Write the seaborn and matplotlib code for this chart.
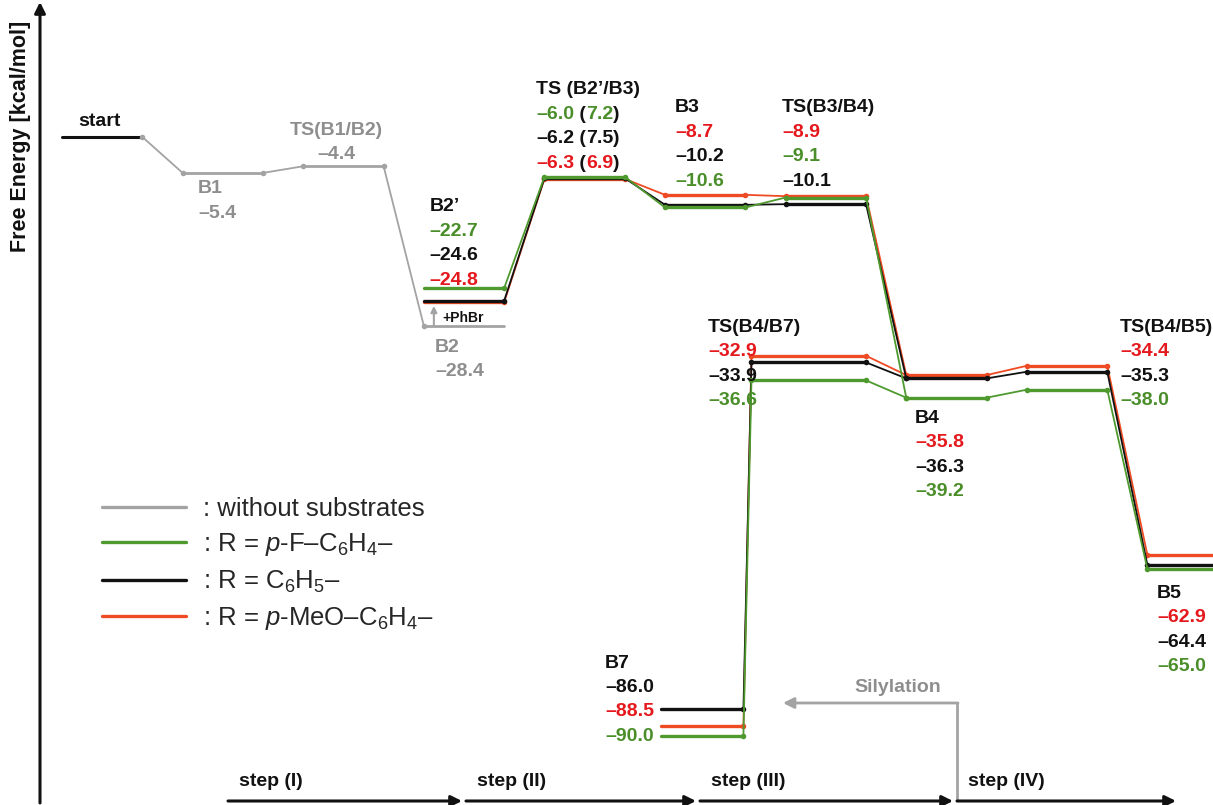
import matplotlib
matplotlib.use("Agg")
import matplotlib.pyplot as plt
import numpy as np
import pandas as pd
import seaborn as sns
from matplotlib.lines import Line2D

sns.set_theme(style="white")
plt.rcParams["font.family"] = ["Liberation Sans", "DejaVu Sans"]
plt.rcParams["mathtext.fontset"] = "custom"
plt.rcParams["mathtext.rm"] = "Liberation Sans"
plt.rcParams["mathtext.it"] = "Liberation Sans:italic"
plt.rcParams["mathtext.bf"] = "Liberation Sans:bold"
plt.rcParams["mathtext.default"] = "regular"

# ---------------- data (kcal/mol) ----------------
free_states = ["start", "B1", "TS(B1/B2)", "B2"]
free_energy = [0.0, -5.4, -4.4, -28.4]

path_states = ["B2’", "TS (B2’/B3)", "B3", "TS(B3/B4)", "B4", "TS(B4/B5)", "B5"]
branch_states = ["TS(B4/B7)", "B7"]

series_keys = ["fluoro", "phenyl", "methoxy"]
series_labels = [
    r": R = $\mathit{p}$-F–C$_6$H$_4$–",
    r": R = C$_6$H$_5$–",
    r": R = $\mathit{p}$-MeO–C$_6$H$_4$–",
]
path_fluoro = [-22.7, -6.0, -10.6, -9.1, -39.2, -38.0, -65.0]
path_phenyl = [-24.6, -6.2, -10.2, -10.1, -36.3, -35.3, -64.4]
path_methoxy = [-24.8, -6.3, -8.7, -8.9, -35.8, -34.4, -62.9]
branch_fluoro = [-36.6, -90.0]
branch_phenyl = [-33.9, -86.0]
branch_methoxy = [-32.9, -88.5]
barrier_fluoro = 7.2
barrier_phenyl = 7.5
barrier_methoxy = 6.9

path_energy = {"fluoro": path_fluoro, "phenyl": path_phenyl, "methoxy": path_methoxy}
branch_energy = {"fluoro": branch_fluoro, "phenyl": branch_phenyl, "methoxy": branch_methoxy}
barrier = {"fluoro": barrier_fluoro, "phenyl": barrier_phenyl, "methoxy": barrier_methoxy}

# ---------------- layout & style ----------------
GRAY, GRAY_TXT = "#a3a3a3", "#8e8e8e"
line_color = {"fluoro": "#4f9a2f", "phenyl": "#111111", "methoxy": "#ee4b24"}
text_color = {"fluoro": "#4a8e2a", "phenyl": "#111111", "methoxy": "#e5191d"}

# plateau spans along the reaction coordinate
free_spans = [(0, 2), (3, 5), (6, 8), (9, 11)]
path_spans = [(9, 11), (12, 14), (15, 17), (18, 20), (21, 23), (24, 26), (27, 31)]
branch_spans = [(20, 17.15), (16.95, 14.9)]


def build(levels, spans, tag, skip_first=False):
    """Return plateau and connector rows for one path."""
    plat, conn = [], []
    for i, (e, (a, b)) in enumerate(zip(levels, spans)):
        if not (skip_first and i == 0):
            plat += [(tag, f"{tag}-p{i}", a, e), (tag, f"{tag}-p{i}", b, e)]
        if i > 0:
            pe, (pa, pb) = levels[i - 1], spans[i - 1]
            conn += [(tag, f"{tag}-c{i}", pb, pe), (tag, f"{tag}-c{i}", a, e)]
    return plat, conn


cols = ["series", "seg", "x", "energy"]
fig = plt.figure(figsize=(12.13, 8.05), dpi=100)
ax = fig.add_axes([0, 0, 1, 1])
ax.set_xlim(-1.542, 28.63)
ax.set_ylim(-100.45, 20.6)
ax.set_axis_off()

# pathway without substrates (start drawn black)
p, c = build(free_energy, free_spans, "free")
plat_free = pd.DataFrame(p, columns=cols)
conn_free = pd.DataFrame(c, columns=cols)
start_df = plat_free[plat_free["seg"] == "free-p0"]
sns.lineplot(data=start_df, x="x", y="energy", units="seg", estimator=None, sort=False,
             color="#111111", linewidth=2.2, legend=False, ax=ax)
sns.lineplot(data=plat_free[plat_free["seg"] != "free-p0"], x="x", y="energy", units="seg",
             estimator=None, sort=False, color=GRAY, linewidth=2.0, legend=False, ax=ax)
sns.lineplot(data=conn_free, x="x", y="energy", units="seg", estimator=None, sort=False,
             color=GRAY, linewidth=1.3, marker="o", markersize=4, markeredgewidth=0,
             legend=False, ax=ax)

# substrate pathways, green drawn last
for key in ["methoxy", "phenyl", "fluoro"]:
    p1, c1 = build(path_energy[key], path_spans, key + "m")
    b_levels = [path_energy[key][4]] + branch_energy[key]
    b_spans = [(23, 21)] + branch_spans
    p2, c2 = build(b_levels, b_spans, key + "b", skip_first=True)
    plat = pd.DataFrame(p1 + p2, columns=cols)
    conn = pd.DataFrame(c1 + c2, columns=cols)
    sns.lineplot(data=conn, x="x", y="energy", units="seg", estimator=None, sort=False,
                 color=line_color[key], linewidth=1.3, marker="o", markersize=4,
                 markeredgewidth=0, legend=False, ax=ax)
    sns.lineplot(data=plat, x="x", y="energy", units="seg", estimator=None, sort=False,
                 color=line_color[key], linewidth=2.4, legend=False, ax=ax)

# ---------------- labels ----------------
STEP = 17.6
FS = 14


def fmt(v):
    return f"–{abs(v):.1f}" if v < 0 else f"{v:.1f}"


def block(x, y, rows, ha="left", size=FS):
    for i, pieces in enumerate(rows):
        prev = None
        for txt, col in pieces:
            if prev is None:
                prev = ax.annotate(txt, xy=(x, y), xytext=(0, -i * STEP), textcoords="offset points",
                                   ha=ha, va="center", color=col, fontsize=size, fontweight="bold")
            else:
                prev = ax.annotate(txt, xy=(1, 0), xycoords=prev, ha="left", va="bottom",
                                   color=col, fontsize=size, fontweight="bold")


def value_rows(values):
    order = sorted(series_keys, key=lambda k: -values[k])
    return [[(fmt(values[k]), text_color[k])] for k in order]


block(0.92, 2.26, [[("start", "#111111")]], ha="center")
block(6.82, 1.05, [[("TS(B1/B2)", GRAY_TXT)], [(fmt(free_energy[2]), GRAY_TXT)]], ha="center")
block(3.38, -7.8, [[("B1", GRAY_TXT)], [(fmt(free_energy[1]), GRAY_TXT)]])
block(9.28, -31.6, [[("B2", GRAY_TXT)], [(fmt(free_energy[3]), GRAY_TXT)]])

path_anchor = [(9.15, -10.5), (11.79, 7.07), (15.25, 4.36), (17.91, 4.36),
               (21.22, -42.3), (26.32, -28.6), (27.24, -68.6)]
for j, (name, (ax_x, ax_y)) in enumerate(zip(path_states, path_anchor)):
    vals = {k: path_energy[k][j] for k in series_keys}
    if j == 1:
        order = sorted(series_keys, key=lambda k: -vals[k])
        rows = [[(fmt(vals[k]), text_color[k]), (" (", "#111111"),
                 (f"{barrier[k]:.1f}", text_color[k]), (")", "#111111")] for k in order]
    else:
        rows = value_rows(vals)
    block(ax_x, ax_y, [[(name, "#111111")]] + rows)

branch_anchor = [(16.07, -28.6), (13.51, -79.1)]
for j, (name, (ax_x, ax_y)) in enumerate(zip(branch_states, branch_anchor)):
    vals = {k: branch_energy[k][j] for k in series_keys}
    block(ax_x, ax_y, [[(name, "#111111")]] + value_rows(vals))

# PhBr addition arrow between B2 and B2'
ax.annotate("", xy=(9.25, -25.4), xytext=(9.25, free_energy[3]),
            arrowprops=dict(arrowstyle="-|>", color=GRAY, lw=1.5, mutation_scale=9,
                            shrinkA=0, shrinkB=0))
ax.annotate("+PhBr", xy=(9.45, -27.2), ha="left", va="center", fontsize=10,
            fontweight="bold", color="#111111")

# ---------------- frame arrows ----------------
def fx(px):
    return px / 1213


def fy(py):
    return 1 - py / 805


arrow_kw = dict(arrowstyle="-|>", color="#111111", lw=2.2, mutation_scale=16, shrinkA=0, shrinkB=0)
ax.annotate("", xy=(fx(40), fy(2)), xytext=(fx(40), fy(803)), xycoords="axes fraction",
            textcoords="axes fraction", arrowprops=arrow_kw)
ax.text(fx(21), fy(136), "Free Energy [kcal/mol]", rotation=90, transform=ax.transAxes,
        ha="center", va="center", fontsize=15.5, fontweight="bold", color="#111111")

steps = ["step (I)", "step (II)", "step (III)", "step (IV)"]
step_px = [(228, 462), (466, 696), (700, 953), (957, 1176)]
for name, (a, b) in zip(steps, step_px):
    ax.annotate("", xy=(fx(b), fy(801)), xytext=(fx(a), fy(801)), xycoords="axes fraction",
                textcoords="axes fraction", arrowprops=arrow_kw)
    ax.text(fx(a + 11), fy(781), name, transform=ax.transAxes, ha="left", va="center",
            fontsize=FS, fontweight="bold", color="#111111")

# silylation return arrow
ax.plot([fx(957), fx(957)], [fy(801), fy(703)], transform=ax.transAxes, color=GRAY, lw=2.0,
        solid_capstyle="butt")
ax.annotate("", xy=(fx(783), fy(703)), xytext=(fx(958), fy(703)), xycoords="axes fraction",
            textcoords="axes fraction",
            arrowprops=dict(arrowstyle="-|>", color=GRAY, lw=2.0, mutation_scale=16,
                            shrinkA=0, shrinkB=0))
ax.text(fx(898), fy(687), "Silylation", transform=ax.transAxes, ha="center", va="center",
        fontsize=FS, fontweight="bold", color=GRAY_TXT)

# ---------------- legend ----------------
handles = [Line2D([], [], color=GRAY, lw=2.4)] + [Line2D([], [], color=line_color[k], lw=2.4)
                                                   for k in series_keys]
labels = [": without substrates"] + series_labels
ax.legend(handles, labels, loc="upper left", bbox_to_anchor=(fx(102), fy(497)),
          frameon=False, fontsize=18.5, handlelength=3.25, handletextpad=0.7,
          labelspacing=0.4, borderaxespad=0, borderpad=0)

fig.savefig("out.png", dpi=100, facecolor="white")
